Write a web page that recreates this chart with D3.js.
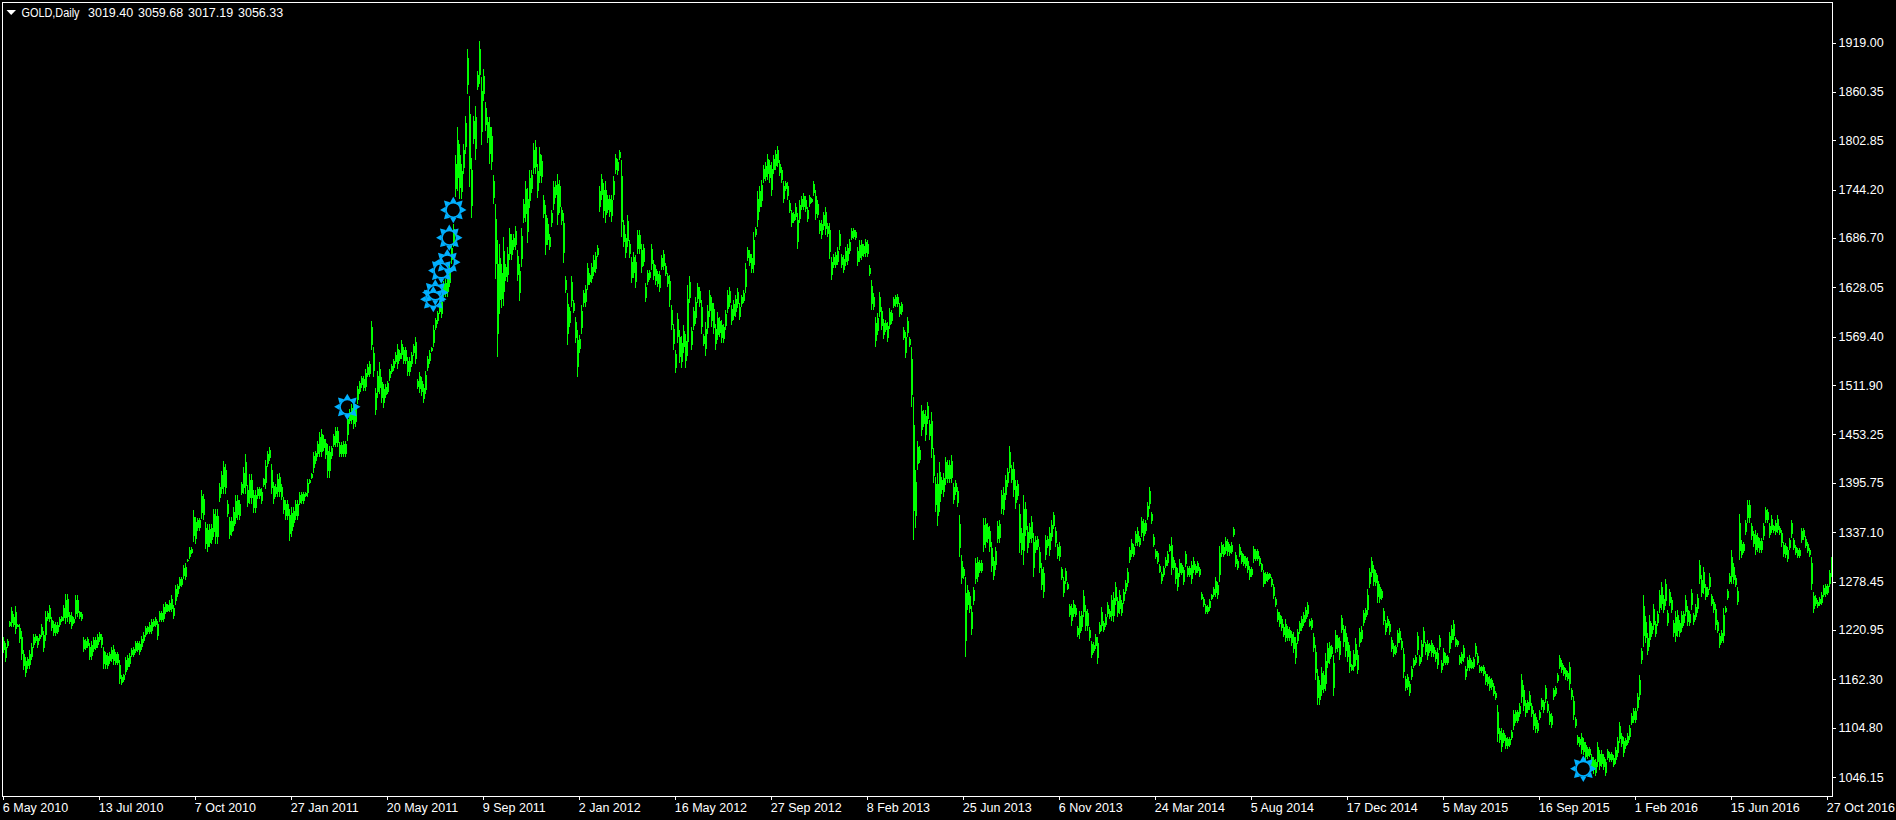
<!DOCTYPE html>
<html><head><meta charset="utf-8">
<style>html,body{margin:0;background:#000;overflow:hidden}svg{display:block}text{font-family:"Liberation Sans",Arial,sans-serif;fill:#fff}</style>
<script src="https://cdn.jsdelivr.net/npm/d3@7"></script>
</head><body><svg id="c" width="1896" height="820"></svg>
<script>
const symbolName="GOLD,Daily";
const lastOHLC=["3019.40","3059.68","3017.19","3056.33"];
const priceTicks=[1919.00,1860.35,1802.85,1744.20,1686.70,1628.05,1569.40,1511.90,1453.25,1395.75,1337.10,1278.45,1220.95,1162.30,1104.80,1046.15];
const dateLabels=["6 May 2010","13 Jul 2010","7 Oct 2010","27 Jan 2011","20 May 2011","9 Sep 2011","2 Jan 2012","16 May 2012","27 Sep 2012","8 Feb 2013","25 Jun 2013","6 Nov 2013","24 Mar 2014","5 Aug 2014","17 Dec 2014","5 May 2015","16 Sep 2015","1 Feb 2016","15 Jun 2016","27 Oct 2016"];
const signalBars=[172,215,216,219,222,223,225,790];
const signalPrices=[1486,1614,1622,1648,1658,1687,1720,1056];
const highs=[
1212,1205,1210,1232,1248,1240,1249,1228,1228,1220,
1197,1189,1189,1197,1205,1216,1216,1214,1216,1228,
1220,1244,1244,1251,1236,1232,1230,1230,1236,1238,
1250,1264,1264,1242,1242,1236,1262,1262,1244,1242,
1212,1210,1212,1205,1208,1212,1212,1216,1218,1216,
1201,1195,1193,1195,1201,1203,1195,1195,1185,1167,
1169,1189,1191,1193,1199,1201,1208,1208,1208,1214,
1218,1226,1226,1230,1234,1234,1236,1232,1244,1244,
1252,1254,1252,1256,1262,1250,1274,1276,1284,1284,
1298,1300,1305,1319,1319,1363,1355,1354,1354,1387,
1383,1349,1347,1347,1347,1365,1365,1365,1395,1410,
1422,1418,1375,1355,1355,1367,1381,1381,1375,1397,
1414,1430,1393,1406,1406,1387,1387,1391,1391,1389,
1402,1423,1434,1438,1418,1397,1394,1406,1408,1394,
1379,1375,1375,1365,1367,1367,1375,1375,1385,1385,
1385,1385,1400,1400,1408,1432,1434,1446,1456,1460,
1452,1448,1442,1440,1440,1454,1462,1462,1444,1444,
1446,1446,1478,1484,1490,1490,1490,1511,1517,1523,
1523,1531,1537,1541,1588,1557,1509,1529,1539,1521,
1513,1513,1517,1531,1537,1543,1551,1561,1553,1565,
1557,1557,1545,1545,1551,1561,1569,1519,1527,1521,
1513,1529,1547,1553,1557,1583,1592,1600,1612,1616,
1636,1638,1648,1656,1680,1703,1785,1818,1798,1775,
1798,1832,1911,1856,1782,1832,1844,1885,1921,1878,
1887,1848,1830,1830,1818,1761,1727,1684,1680,1656,
1688,1656,1676,1699,1691,1691,1701,1672,1656,1699,
1733,
1754,1746,1767,1767,1799,1803,1775,1795,1785,1738,
1726,1710,1692,1720,1754,1754,1763,1756,1724,1716,
1641,1621,1605,1641,1613,1593,1577,1571,1607,1625,
1631,1657,1645,1657,1666,1670,1678,1748,1763,1752,
1754,1738,1738,1738,1760,1787,1781,1791,1779,1708,
1692,1714,1684,1664,1670,1666,1696,1696,1680,1680,
1633,1649,1649,1680,1661,1655,1647,1647,1666,1672,
1657,1645,1643,1607,1585,1554,1597,1577,1570,1583,
1573,1631,1641,1581,1605,1617,1633,1629,1613,1573,
1587,1607,1625,1617,1609,1585,1599,1593,1589,1585,
1601,1625,1629,1607,1613,1619,1627,1609,1619,1625,
1657,1676,1672,1668,1694,1700,1742,1748,1756,1773,
1777,1787,1779,1777,1785,1791,1796,1779,1771,1754,
1754,
1753,1732,1720,1718,1728,1716,1732,1736,1740,1736,
1724,1738,1734,1755,1744,1732,1708,1708,1718,1724,
1704,1704,1664,1668,1670,1676,1696,1668,1666,1676,
1680,1686,1698,1698,1696,1676,1684,1684,1680,1686,
1684,1654,1637,1621,1593,1597,1623,1605,1591,1589,
1587,1603,1601,1617,1619,1620,1609,1611,1581,1575,
1593,1569,1557,1498,1411,1445,1439,1488,1482,1482,
1492,1470,1480,1437,1403,1407,1421,1403,1407,1427,
1423,1423,1429,1395,1399,1391,1357,1310,1296,1284,
1274,1266,1249,1272,1306,1308,1304,1304,1354,1354,
1348,1344,1326,1308,1320,1350,1352,1387,1391,1405,
1413,1439,1417,1421,1399,1399,1371,1342,1381,1373,
1344,1348,1356,1336,1332,1332,1320,1300,1296,1334,
1332,
1343,1351,1361,1343,1323,1325,1296,1284,1294,1278,
1252,1252,1256,1250,1226,1244,1244,1268,1250,1246,
1224,1208,1206,1216,1212,1230,1248,1232,1240,1254,
1246,1262,1266,1278,1260,1268,1256,1270,1280,1294,
1319,1329,1323,1339,1343,1333,1355,1353,1351,1373,
1391,1361,1335,1317,1315,1299,1290,1297,1307,1315,
1323,1331,1307,1301,1294,1305,1301,1296,1315,1297,
1297,1303,1307,1299,1303,1296,1266,1260,1252,1250,
1258,1264,1272,1284,1278,1321,1325,1323,1331,1329,
1323,1325,1343,1313,1305,1323,1315,1311,1309,1307,
1297,1296,1321,1317,1317,1309,1301,1292,1290,1290,
1288,1284,1276,1260,1246,1242,1238,1228,1234,1226,
1224,1220,1218,1212,1222,1232,1238,1242,1248,1254,
1234,
1235,1217,1203,1174,1162,1177,1172,1193,1205,1207,
1203,1191,1221,1215,1213,1239,1227,1225,1213,1203,
1181,1197,1211,1197,1223,1225,1245,1247,1269,1294,
1307,1298,1292,1286,1276,1269,1247,1233,1237,1231,
1213,1205,1203,1221,1223,1211,1199,1166,1168,1160,
1178,1187,1191,1219,1191,1209,1224,1207,1209,1205,
1209,1203,1197,1199,1215,1185,1199,1193,1191,1219,
1227,1233,1213,1209,1191,1195,1203,1178,1189,1191,
1185,1189,1205,1193,1179,1178,1179,1172,1168,1166,
1164,1158,1148,1132,1104,1104,1102,1096,1094,1094,
1102,1126,1126,1126,1134,1168,1156,1138,1138,1148,
1134,1126,1122,1114,1126,1140,1138,1156,1136,1124,
1122,1152,1154,1170,1191,1185,1179,1176,1172,1183,
1152,
1142,1118,1096,1094,1098,1092,1088,1082,1082,1074,
1070,1068,1088,1078,1078,1074,1068,1080,1076,1076,
1072,1082,1094,1112,1098,1094,1092,1098,1108,1122,
1128,1128,1146,1167,1199,1262,1237,1217,1239,1229,
1252,1231,1243,1268,1278,1262,1282,1245,1270,1260,
1233,1243,1245,1233,1243,1243,1262,1249,1243,1270,
1241,1252,1264,1304,1286,1296,1276,1272,1288,1264,
1258,1252,1233,1217,1221,1247,1249,1270,1288,1316,
1300,1286,1272,1359,1328,1326,1351,1375,1375,1348,
1338,1340,1336,1330,1330,1348,1367,1365,1348,1357,
1346,1351,1357,1344,1340,1326,1324,1320,1330,1352,
1330,1322,1318,1318,1342,1342,1332,1326,1318,1308,
1266,1262,1256,1260,1266,1274,1276,1276,1292,1307];
const lows=[
1193,1183,1200,1224,1224,1224,1216,1224,1205,1185,
1173,1165,1175,1175,1185,1200,1205,1200,1208,1212,
1195,1208,1232,1230,1220,1214,1214,1216,1224,1230,
1232,1228,1230,1228,1222,1228,1234,1236,1234,1232,
1195,1197,1200,1185,1185,1195,1197,1200,1207,1200,
1175,1175,1175,1181,1183,1179,1179,1179,1157,1155,
1159,1167,1173,1177,1189,1189,1193,1195,1191,1197,
1205,1212,1216,1216,1216,1224,1224,1209,1230,1230,
1230,1240,1242,1242,1242,1234,1250,1260,1270,1272,
1282,1280,1302,1305,1311,1325,1323,1339,1339,1353,
1351,1317,1313,1319,1323,1331,1323,1323,1373,1383,
1383,1383,1355,1329,1333,1339,1347,1351,1351,1381,
1383,1383,1367,1371,1371,1360,1360,1377,1377,1371,
1391,1388,1414,1422,1383,1371,1379,1379,1379,1375,
1359,1351,1351,1327,1331,1343,1351,1351,1369,1371,
1371,1379,1379,1394,1400,1408,1418,1426,1426,1426,
1434,1424,1402,1402,1424,1438,1438,1438,1426,1426,
1426,1426,1446,1466,1466,1460,1462,1490,1501,1509,
1505,1505,1521,1521,1553,1521,1476,1497,1501,1491,
1485,1497,1501,1517,1525,1529,1537,1531,1541,1543,
1537,1537,1523,1523,1533,1547,1537,1507,1503,1499,
1491,1501,1529,1537,1551,1557,1577,1585,1596,1592,
1616,1616,1616,1628,1656,1676,1735,1743,1733,1733,
1763,1786,1858,1747,1710,1798,1779,1862,1870,1797,
1850,1814,1800,1775,1767,1727,1638,1545,1596,1604,
1606,1636,1634,1660,1660,1672,1672,1636,1612,1652,
1705,
1706,1681,1722,1740,1763,1763,1734,1752,1752,1710,
1666,1678,1672,1700,1720,1734,1702,1716,1702,1657,
1621,1560,1581,1605,1597,1562,1522,1550,1573,1605,
1605,1625,1631,1633,1641,1645,1664,1718,1732,1710,
1704,1716,1712,1706,1732,1763,1762,1779,1688,1676,
1663,1676,1663,1633,1639,1627,1668,1668,1645,1653,
1611,1631,1637,1649,1637,1631,1629,1623,1649,1649,
1641,1629,1605,1577,1554,1526,1562,1538,1532,1550,
1532,1546,1609,1554,1577,1585,1609,1605,1573,1558,
1546,1573,1593,1581,1573,1554,1565,1569,1562,1562,
1577,1597,1605,1583,1589,1593,1603,1589,1605,1609,
1621,1659,1653,1645,1645,1688,1700,1718,1724,1752,
1754,1756,1752,1736,1763,1767,1771,1760,1752,1728,
1742,
1732,1716,1700,1704,1708,1674,1704,1720,1720,1718,
1706,1724,1728,1736,1708,1710,1692,1686,1696,1690,
1688,1662,1637,1651,1651,1654,1672,1651,1645,1653,
1654,1668,1684,1686,1684,1653,1658,1660,1664,1664,
1664,1641,1601,1601,1557,1571,1593,1577,1567,1575,
1563,1579,1585,1603,1605,1605,1593,1595,1565,1544,
1569,1557,1486,1328,1342,1411,1419,1451,1462,1445,
1466,1447,1425,1395,1361,1344,1361,1383,1379,1393,
1395,1395,1395,1371,1381,1367,1308,1276,1282,1189,
1245,1241,1215,1251,1276,1278,1288,1288,1314,1318,
1324,1314,1290,1280,1292,1324,1324,1359,1357,1375,
1391,1407,1395,1379,1365,1375,1312,1310,1298,1332,
1312,1324,1324,1284,1312,1316,1288,1268,1259,1304,
1318,
1309,1327,1341,1319,1305,1303,1280,1260,1276,1268,
1236,1226,1236,1236,1212,1210,1220,1236,1220,1220,
1208,1187,1193,1198,1181,1216,1220,1218,1224,1236,
1234,1232,1230,1250,1236,1240,1238,1252,1264,1272,
1301,1307,1307,1321,1321,1319,1331,1327,1335,1351,
1365,1347,1319,1305,1299,1288,1276,1284,1294,1297,
1313,1286,1292,1276,1267,1284,1286,1274,1296,1284,
1284,1276,1288,1286,1288,1284,1256,1248,1240,1240,
1244,1256,1260,1260,1258,1278,1307,1307,1311,1309,
1309,1311,1331,1296,1292,1307,1299,1297,1294,1288,
1280,1284,1301,1303,1303,1297,1290,1272,1276,1278,
1282,1272,1258,1248,1230,1224,1220,1212,1206,1208,
1208,1202,1193,1181,1204,1216,1220,1226,1230,1236,
1224,
1221,1195,1162,1132,1132,1142,1146,1148,1176,1181,
1189,1142,1193,1195,1185,1217,1201,1189,1183,1170,
1172,1172,1178,1168,1201,1207,1225,1233,1239,1271,
1284,1273,1273,1253,1253,1257,1227,1215,1223,1215,
1195,1189,1191,1201,1205,1197,1164,1148,1150,1142,
1162,1176,1179,1191,1178,1183,1201,1191,1185,1193,
1189,1189,1183,1174,1197,1170,1178,1179,1179,1193,
1205,1209,1201,1201,1179,1181,1183,1162,1172,1172,
1174,1174,1189,1179,1170,1170,1166,1156,1154,1148,
1150,1142,1138,1088,1086,1076,1086,1080,1080,1082,
1090,1102,1110,1110,1118,1134,1124,1118,1122,1126,
1118,1102,1098,1098,1114,1126,1122,1134,1122,1108,
1104,1138,1142,1158,1174,1170,1166,1162,1160,1150,
1138,
1114,1104,1084,1082,1074,1072,1066,1068,1070,1054,
1050,1047,1058,1054,1058,1054,1047,1066,1064,1064,
1058,1062,1070,1086,1082,1070,1080,1084,1090,1108,
1110,1110,1124,1138,1181,1201,1205,1191,1201,1213,
1221,1213,1225,1241,1245,1241,1249,1225,1249,1241,
1213,1207,1213,1213,1219,1225,1237,1225,1225,1245,
1227,1233,1241,1276,1260,1264,1256,1260,1268,1249,
1241,1221,1217,1199,1205,1205,1241,1256,1276,1276,
1276,1272,1250,1304,1306,1312,1334,1348,1348,1328,
1320,1310,1314,1312,1312,1328,1348,1348,1330,1336,
1336,1334,1336,1334,1320,1308,1306,1302,1316,1330,
1316,1310,1306,1306,1324,1328,1318,1312,1308,1268,
1241,1249,1247,1249,1250,1260,1260,1262,1272,1284];

const W=1896,H=820,frame={l:2.5,t:2.5,r:1832.5,b:796.5};
const barCount=highs.length;
const x=d3.scaleLinear().domain([0,914]).range([3.3,1831.3]);
const y=d3.scaleLinear().domain([1046.15,1919]).range([777,42.5]);
const svg=d3.select("#c");
svg.append("rect").attr("width",W).attr("height",H).attr("fill","#000");
svg.append("clipPath").attr("id","plot").append("rect").attr("x",frame.l).attr("y",frame.t).attr("width",frame.r-frame.l).attr("height",frame.b-frame.t);
const idx=d3.range(barCount);
const g=svg.append("g").attr("clip-path","url(#plot)").attr("shape-rendering","crispEdges").attr("fill","#00ff00");
const px=i=>Math.floor(x(i));
g.selectAll(".wick").data(idx).join("rect").attr("class","wick")
 .attr("x",px).attr("width",1)
 .attr("y",i=>y(highs[i])).attr("height",i=>Math.max(1,y(lows[i])-y(highs[i])));
const inner=(i,t)=>lows[i]+(highs[i]-lows[i])*t;
g.selectAll(".body").data(idx).join("rect").attr("class","body")
 .attr("x",px).attr("width",2)
 .attr("y",i=>y(inner(i,0.8))).attr("height",i=>Math.max(1,y(inner(i,0.2))-y(inner(i,0.8))));

// frame
svg.append("rect").attr("x",frame.l).attr("y",frame.t).attr("width",frame.r-frame.l).attr("height",frame.b-frame.t)
 .attr("fill","none").attr("stroke","#fff").attr("stroke-width",1).attr("shape-rendering","crispEdges");

// signals
const gearColor="#00b0ff";
const triangle=d3.symbol().type(d3.symbolTriangle).size(17);
const gears=svg.append("g").selectAll("g").data(signalBars).join("g")
 .attr("transform",(b,i)=>`translate(${x(b)},${y(signalPrices[i])})`);
gears.append("circle").attr("r",7.4).attr("fill","none").attr("stroke",gearColor).attr("stroke-width",1.8);
d3.range(8).forEach(k=>{
 gears.append("path").attr("d",triangle).attr("fill",gearColor)
  .attr("transform",`rotate(${k*45}) translate(0,-9.6)`);
});

// axes
const fontSize=12.5;
const yAxis=d3.axisRight(y).tickValues(priceTicks).tickFormat(d3.format(".2f")).tickSize(3).tickPadding(3);
const ya=svg.append("g").attr("transform",`translate(${frame.r},0)`).call(yAxis);
ya.select(".domain").remove();
ya.selectAll("line").attr("stroke","#fff").attr("shape-rendering","crispEdges");
ya.selectAll("text").attr("font-size",fontSize).attr("fill","#fff").attr("font-family","Liberation Sans");
const dateBars=dateLabels.map((d,i)=>i*48);
const xAxis=d3.axisBottom(x).tickValues(dateBars).tickFormat((d,i)=>dateLabels[i]).tickSize(3).tickPadding(4);
const xa=svg.append("g").attr("transform",`translate(0,${frame.b})`).call(xAxis);
xa.select(".domain").remove();
xa.selectAll("line").attr("stroke","#fff").attr("shape-rendering","crispEdges");
xa.selectAll("text").attr("font-size",fontSize).attr("fill","#fff").attr("text-anchor","start").attr("x",-1).attr("font-family","Liberation Sans");

// header
svg.append("path").attr("d",d3.line()([[6.5,10],[16,10],[11.2,15]])+"Z").attr("fill","#fff");
svg.append("text").attr("x",21.5).attr("y",17).attr("font-size",fontSize).attr("textLength",58).attr("lengthAdjust","spacingAndGlyphs").text(symbolName);
svg.selectAll(".ohlc").data(lastOHLC).join("text").attr("class","ohlc")
 .attr("x",(d,i)=>88+i*50).attr("y",17).attr("font-size",fontSize).text(d=>d);
</script></body></html>
